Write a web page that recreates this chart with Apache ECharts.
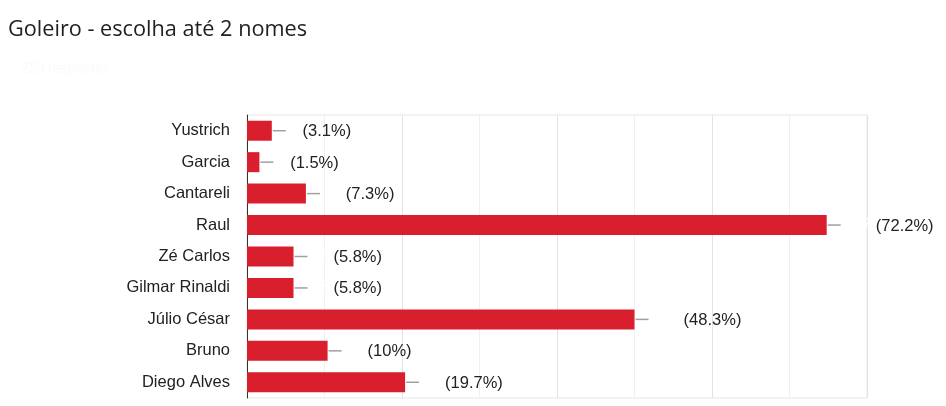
<!DOCTYPE html>
<html>
<head>
<meta charset="utf-8">
<script src="https://cdn.jsdelivr.net/npm/echarts@6/dist/echarts.min.js"></script>
<style>html,body{margin:0;padding:0;background:#fff}#c{width:946px;height:406px}</style>
</head>
<body>
<div id="c"></div>
<script>
const categories = ['Yustrich', 'Garcia', 'Cantareli', 'Raul', 'Zé Carlos', 'Gilmar Rinaldi', 'Júlio César', 'Bruno', 'Diego Alves'];
const counts = [8, 4, 19, 187, 15, 15, 125, 26, 51];
const percents = ['3.1%', '1.5%', '7.3%', '72.2%', '5.8%', '5.8%', '48.3%', '10%', '19.7%'];
const titleText = 'Goleiro - escolha até 2 nomes';
const subtitleText = '259 respostas';

const FONT = "'Liberation Sans', Arial, sans-serif";
const chart = echarts.init(document.getElementById('c'), null, {renderer: 'canvas'});
chart.setOption({
  animation: false,
  backgroundColor: '#fff',
  title: [{
    text: titleText,
    left: 8,
    top: 19,
    padding: 0,
    textStyle: {fontFamily: "'Open Sans'", fontSize: 21.7, fontWeight: 'normal', color: '#202124'}
  }, {
    text: subtitleText,
    left: 21,
    top: 62,
    padding: 0,
    textStyle: {fontFamily: 'Roboto', fontSize: 14, fontWeight: 'normal', color: '#fafafa'}
  }],
  grid: {left: 247, right: 79, top: 115, bottom: 8, show: true, borderColor: '#e6e6e6', borderWidth: 1},
  xAxis: {
    type: 'value', min: 0, max: 200, interval: 50,
    axisLabel: {show: false}, axisTick: {show: false}, axisLine: {show: false},
    splitLine: {lineStyle: {color: '#e3e3e3', width: 1}},
    minorTick: {show: false, splitNumber: 2},
    minorSplitLine: {show: true, lineStyle: {color: '#f0f0f0', width: 1}}
  },
  yAxis: {
    type: 'category', data: categories, inverse: true,
    axisLine: {lineStyle: {color: '#333', width: 1}},
    axisTick: {show: false},
    axisLabel: {margin: 17, color: '#222', fontFamily: FONT, fontSize: 16.5, padding: [2, 0, 0, 0]}
  },
  series: [{
    type: 'bar',
    data: counts,
    barWidth: 20,
    itemStyle: {color: '#d91e2d'},
    label: {
      show: true, position: 'right', distance: 1,
      fontFamily: FONT, fontSize: 16.5,
      formatter: (p) => '{ln|}{sp|}{w|' + counts[p.dataIndex] + '} {p|(' + percents[p.dataIndex] + ')}',
      rich: {
        ln: {width: 13, height: 1.5, backgroundColor: '#a0a0a0', verticalAlign: 'middle'},
        sp: {width: 3},
        w: {color: '#ffffff', fontFamily: FONT, fontSize: 16.5},
        p: {color: '#222222', fontFamily: FONT, fontSize: 16.5, padding: [2, 0, 0, 0]}
      }
    }
  }]
});
</script>
</body>
</html>
